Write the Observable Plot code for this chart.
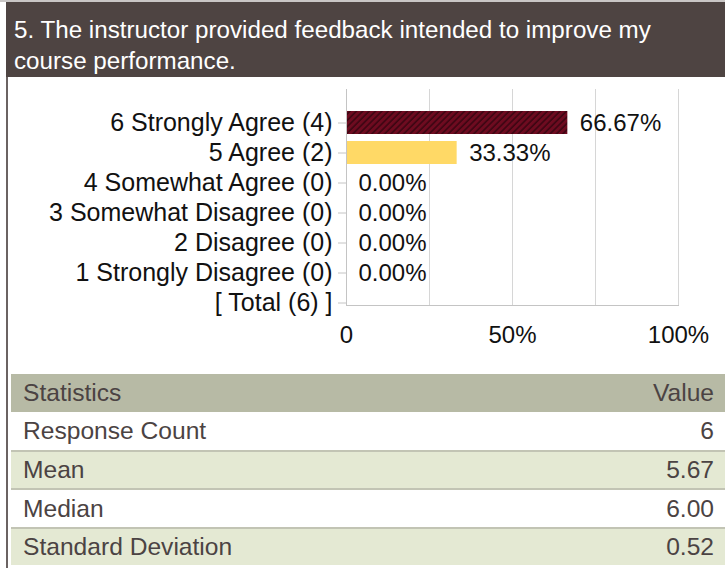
<!DOCTYPE html>
<html>
<head>
<meta charset="utf-8">
<script src="https://cdn.jsdelivr.net/npm/d3@7"></script>
<script src="https://cdn.jsdelivr.net/npm/@observablehq/plot@0.6"></script>
<style>
  body { margin:0; width:725px; height:568px; overflow:hidden; position:relative; background:#fff;
         font-family: Arial, "Liberation Sans", sans-serif; }
  #topline { position:absolute; left:0; top:0; width:725px; height:2px; background:#c9c6c5; }
  #title { position:absolute; left:6px; top:2px; width:711px; height:63px; padding:12px 0 0 8px;
           background:#4e4442; color:#fff; font-size:24.2px; line-height:31px; }
  #leftborder { position:absolute; left:6px; top:77px; width:2px; height:491px; background:#6b6362; }
  #chart { position:absolute; left:0; top:78px; }
  #table { position:absolute; left:11px; top:374px; width:714px; color:#4b4343; font-size:24.6px; }
  .row { display:flex; justify-content:space-between; align-items:center; height:36.4px; padding:0 11px 0 12px;
         border-top:2px solid #c2c4b4; }
  .row.head { background:#b7baa5; height:38px; border-top:none; }
  .row.first { border-top:none; height:38px; }
  .row.alt { background:#e4e9d3; }
</style>
</head>
<body>
<div id="topline"></div>
<div id="title">5. The instructor provided feedback intended to improve my<br>course performance.</div>
<div id="leftborder"></div>
<div id="chart"></div>
<div id="table"></div>
<script>
// ---- data ----
const categories = [
  "6 Strongly Agree (4)",
  "5 Agree (2)",
  "4 Somewhat Agree (0)",
  "3 Somewhat Disagree (0)",
  "2 Disagree (0)",
  "1 Strongly Disagree (0)",
  "[ Total (6) ]"
];
const percents = [66.67, 33.33, 0, 0, 0, 0];
const xTicks = [0, 50, 100];
const gridTicks = [0, 25, 50, 75, 100];
const statNames = ["Response Count", "Mean", "Median", "Standard Deviation"];
const statValues = ["6", "5.67", "6.00", "0.52"];
const tableHeader = ["Statistics", "Value"];

// styles (separate from data)
const barFills = ["url(#hatch)", "#ffd966"];

const rows = percents.map((p, i) => ({label: categories[i], pct: p, fill: barFills[i] || "none"}));

const chart = Plot.plot({
  width: 725,
  height: 296,
  marginLeft: 346,
  marginRight: 47,
  marginTop: 11,
  marginBottom: 69,
  style: {fontFamily: 'Arial, "Liberation Sans", sans-serif', fontSize: "24px", color: "#111", background: "transparent"},
  x: {domain: [0, 100]},
  y: {type: "band", domain: categories, range: [26.6, 242.4], paddingInner: 0.22, paddingOuter: 0.11},
  marks: [
    Plot.gridX(gridTicks, {stroke: "#d6d6d6", strokeOpacity: 1}),
    Plot.barX(rows, {x: "pct", y: "label", fill: "fill"}),
    Plot.frame({anchor: "left", stroke: "#c4c4c4"}),
    Plot.frame({anchor: "bottom", stroke: "#c4c4c4"}),
    Plot.axisY({tickSize: 8, tickPadding: 6, stroke: "#c4c4c4", fill: "#111", fontSize: 25, label: null}),
    Plot.axisX(xTicks, {tickSize: 0, tickPadding: 20, fill: "#111", fontSize: 24, label: null,
      tickFormat: d => d === 0 ? "0" : d + "%"}),
    Plot.text(rows, {x: "pct", y: "label", text: d => d.pct.toFixed(2) + "%", textAnchor: "start", dx: 12,
      fill: "#111", fontSize: 24})
  ]
});

// hatch pattern for the first bar
const svg = d3.select(chart);
const defs = svg.insert("defs", ":first-child");
const pat = defs.append("pattern").attr("id", "hatch").attr("patternUnits", "userSpaceOnUse")
  .attr("width", 4.5).attr("height", 4.5).attr("patternTransform", "rotate(45)");
pat.append("rect").attr("width", 4.5).attr("height", 4.5).attr("fill", "#6e0b20");
pat.append("line").attr("x1", 1).attr("y1", 0).attr("x2", 1).attr("y2", 4.5)
  .attr("stroke", "#350510").attr("stroke-width", 1.4);

document.getElementById("chart").appendChild(chart);

// table
const table = document.getElementById("table");
const mk = (cls, a, b) => {
  const r = document.createElement("div");
  r.className = "row " + cls;
  const s1 = document.createElement("span"); s1.textContent = a;
  const s2 = document.createElement("span"); s2.textContent = b;
  r.appendChild(s1); r.appendChild(s2);
  table.appendChild(r);
};
mk("head", tableHeader[0], tableHeader[1]);
statNames.forEach((n, i) => mk((i === 0 ? "first " : "") + (i % 2 === 1 ? "alt" : ""), n, statValues[i]));
</script>
</body>
</html>
